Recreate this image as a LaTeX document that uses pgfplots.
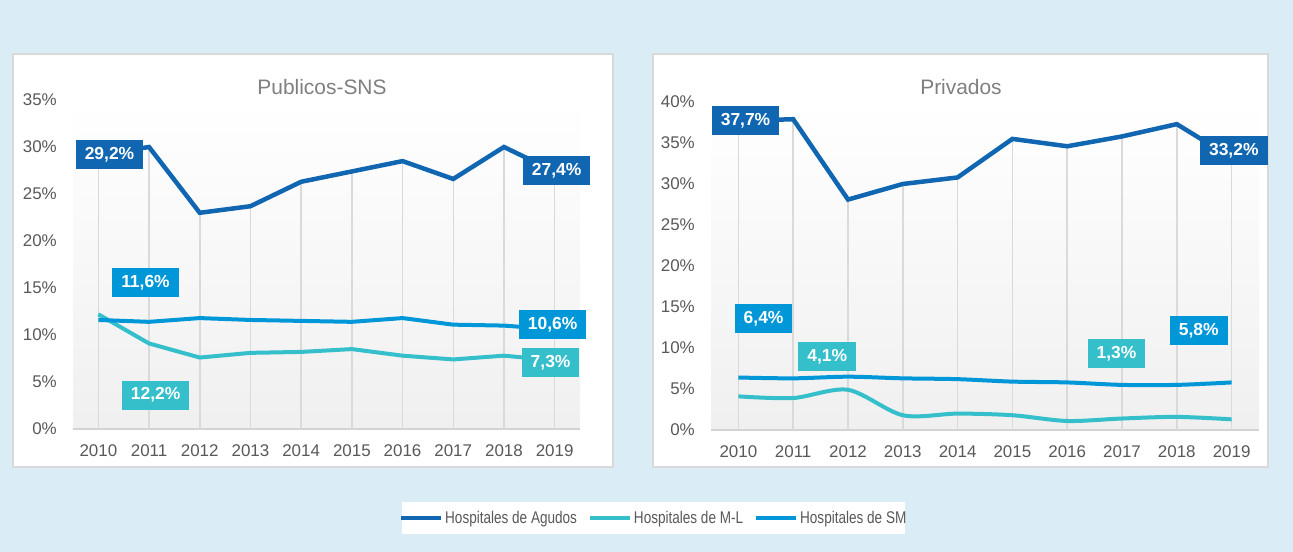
\documentclass[border=0pt]{standalone}
\usepackage{fontspec}
\setmainfont{Liberation Sans}
\newfontfamily\legfont[FakeStretch=0.8]{Liberation Sans}
\usepackage{pgfplots}
\pgfplotsset{compat=1.18}
\usepackage{pgfplotstable}

\definecolor{bgblue}{HTML}{DAEDF7}
\definecolor{agu}{HTML}{1066B1}
\definecolor{sm}{HTML}{0097D9}
\definecolor{ml}{HTML}{34BFCB}
\definecolor{tickc}{HTML}{595959}
\definecolor{ttl}{HTML}{7F7F7F}
\definecolor{drop}{HTML}{DADADA}
\definecolor{axl}{HTML}{D3D3D3}
\definecolor{pborder}{HTML}{D9D9D9}

\pgfplotstableread{
year agu ml sm
2010 29.2 12.2 11.6
2011 30.0 9.1 11.4
2012 23.0 7.6 11.8
2013 23.7 8.1 11.6
2014 26.3 8.2 11.5
2015 27.4 8.5 11.4
2016 28.5 7.8 11.8
2017 26.6 7.4 11.1
2018 30.0 7.8 11.0
2019 27.4 7.3 10.6
}\pub

\pgfplotstableread{
year agu ml sm
2010 37.7 4.1 6.4
2011 37.9 3.9 6.3
2012 28.1 4.9 6.5
2013 30.0 1.8 6.3
2014 30.8 2.0 6.2
2015 35.5 1.8 5.9
2016 34.6 1.1 5.8
2017 35.8 1.4 5.5
2018 37.3 1.6 5.5
2019 33.2 1.3 5.8
}\priv

\tikzset{
  lbl/.style={fill=#1, text=white, font=\bfseries\fontsize{17.5}{20}\selectfont,
    inner xsep=9bp, inner ysep=0pt, minimum height=29bp},
}
\pgfplotsset{
  panel/.style={
    scale only axis,
    anchor=south west,
    xmin=2009.5, xmax=2019.5, ymin=0,
    axis lines*=left,
    y axis line style={draw=none},
    x axis line style={draw=axl, line width=2bp, -},
    xtick={2010,2011,2012,2013,2014,2015,2016,2017,2018,2019},
    xticklabels={2010,2011,2012,2013,2014,2015,2016,2017,2018,2019},
    major tick length=0pt,
    tick label style={font=\fontsize{17}{20}\selectfont, text=tickc},
    xticklabel style={anchor=north, inner sep=0pt, yshift=-15bp},
    yticklabel style={anchor=east, inner sep=0pt, xshift=-16bp},
    axis background/.style={top color=white, middle color=black!2, bottom color=black!6},
    clip=false,
  },
}

\begin{document}
\begin{tikzpicture}
\fill[bgblue] (0bp,0bp) rectangle (1293bp,552bp);
\useasboundingbox (0bp,0bp) rectangle (1293bp,552bp);
\filldraw[fill=white, draw=pborder, line width=1.5bp] (13bp,85bp) rectangle (613bp,498bp);
\filldraw[fill=white, draw=pborder, line width=1.5bp] (653bp,85bp) rectangle (1268bp,498bp);
\fill[white] (402bp,18bp) rectangle (905bp,50bp);

\begin{axis}[panel, at={(73bp,123bp)}, width=507bp, height=329bp, ymax=35,
  ytick={0,5,10,15,20,25,30,35},
  yticklabels={0\%,5\%,10\%,15\%,20\%,25\%,30\%,35\%},
  legend style={at={(1.145,-0.2705)}, anchor=center, legend columns=3,
    draw=none, fill=none, font=\legfont\fontsize{17}{20}\selectfont, text=tickc,
    inner sep=0pt,
    /tikz/every even column/.append style={column sep=9bp}},
  legend image code/.code={\draw[#1] (0bp,0bp) -- (40bp,0bp);},
]
\addplot[ycomb, draw=drop, line width=1.5bp, forget plot] table[x=year,y=agu]{\pub};
\addplot[agu, line width=4.5bp] table[x=year,y=agu]{\pub};
\addlegendentry{Hospitales de Agudos}
\addplot[ml, line width=4bp] table[x=year,y=ml]{\pub};
\addlegendentry{Hospitales de M-L}
\addplot[sm, line width=4bp] table[x=year,y=sm]{\pub};
\addlegendentry{Hospitales de SM}
\node[lbl=agu] at (axis cs:2010.22,29.2) {29,2\%};
\node[lbl=agu] at (axis cs:2019.04,27.45) {27,4\%};
\node[lbl=sm] at (axis cs:2010.93,15.6) {11,6\%};
\node[lbl=sm] at (axis cs:2018.96,11.1) {10,6\%};
\node[lbl=ml] at (axis cs:2018.92,7.07) {7,3\%};
\node[lbl=ml] at (axis cs:2011.13,3.6) {12,2\%};
\end{axis}

\begin{axis}[panel, at={(711bp,122bp)}, width=548bp, height=328bp, ymax=40,
  ytick={0,5,10,15,20,25,30,35,40},
  yticklabels={0\%,5\%,10\%,15\%,20\%,25\%,30\%,35\%,40\%},
]
\addplot[ycomb, draw=drop, line width=1.5bp] table[x=year,y=agu]{\priv};
\addplot[agu, line width=4.5bp] table[x=year,y=agu]{\priv};
\addplot[ml, line width=4bp, smooth, tension=0.5] table[x=year,y=ml]{\priv};
\addplot[sm, line width=4bp, smooth, tension=0.5] table[x=year,y=sm]{\priv};
\node[lbl=agu] at (axis cs:2010.13,37.74) {37,7\%};
\node[lbl=agu] at (axis cs:2019.04,34.1) {33,2\%};
\node[lbl=sm] at (axis cs:2010.46,13.6) {6,4\%};
\node[lbl=ml] at (axis cs:2011.62,8.96) {4,1\%};
\node[lbl=ml] at (axis cs:2016.90,9.33) {1,3\%};
\node[lbl=sm] at (axis cs:2018.40,12.13) {5,8\%};
\end{axis}

\node[font=\fontsize{21}{24}\selectfont, text=ttl] at (322bp,465bp) {Publicos-SNS};
\node[font=\fontsize{21}{24}\selectfont, text=ttl] at (961bp,465bp) {Privados};
\end{tikzpicture}
\end{document}
